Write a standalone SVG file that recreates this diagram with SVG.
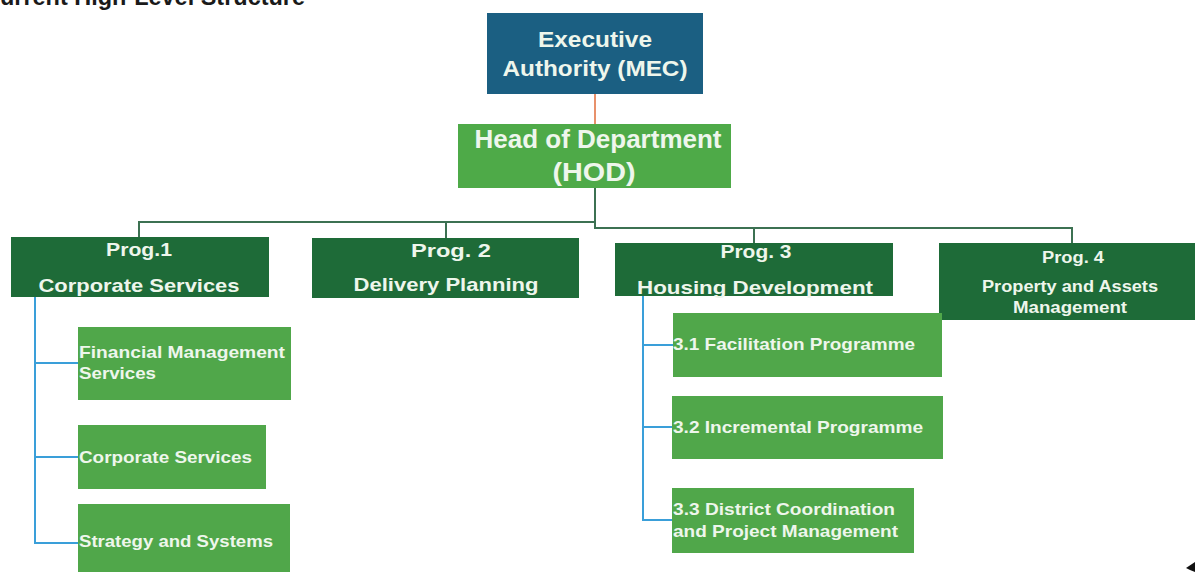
<svg xmlns="http://www.w3.org/2000/svg" width="1195" height="572" viewBox="0 0 1195 572">
  <style>
    .t { font-family: "Liberation Sans", Arial, sans-serif; font-weight: bold; fill: #eef6ec; }
    .c { text-anchor: middle; }
    .blue { fill: #1b5f82; }
    .hod { fill: #4eaa48; }
    .prog { fill: #1e6b38; }
    .sub { fill: #50a74a; }
    .trunk { fill: none; stroke: #3c7152; stroke-width: 2; }
    .branch { fill: none; stroke: #3a9fd9; stroke-width: 2; }
  </style>

  <rect width="1195" height="572" fill="#ffffff"/>

  <!-- page heading, cut by the top edge -->
  <text x="-17" y="5" font-family="Liberation Sans, Arial, sans-serif" font-weight="bold" font-size="23" fill="#1a1a1a" textLength="322" lengthAdjust="spacingAndGlyphs">Current High-Level Structure</text>

  <!-- connectors -->
  <g id="connectors">
    <line x1="595" y1="94" x2="595" y2="124" stroke="#e8916b" stroke-width="2"/>
    <polyline class="trunk" points="595,188 595,228 1072,228 1072,243"/>
    <polyline class="trunk" points="139,237 139,222 595,222"/>
    <line class="trunk" x1="446" y1="222" x2="446" y2="238"/>
    <line class="trunk" x1="754" y1="228" x2="754" y2="243"/>
    <polyline class="branch" points="35,297 35,543 78,543"/>
    <line class="branch" x1="35" y1="363" x2="78" y2="363"/>
    <line class="branch" x1="35" y1="457" x2="78" y2="457"/>
    <polyline class="branch" points="643,296 643,520 672,520"/>
    <line class="branch" x1="643" y1="345" x2="673" y2="345"/>
    <line class="branch" x1="643" y1="427" x2="672" y2="427"/>
  </g>

  <g id="mec">
    <rect class="blue" x="487" y="13" width="216" height="81"/>
    <text class="t c" x="595" y="47" font-size="22" textLength="114" lengthAdjust="spacingAndGlyphs">Executive</text>
    <text class="t c" x="595" y="76" font-size="22" textLength="185" lengthAdjust="spacingAndGlyphs">Authority (MEC)</text>
  </g>

  <g id="hod">
    <rect class="hod" x="458" y="124" width="273" height="64"/>
    <text class="t c" x="598" y="148" font-size="25" textLength="247" lengthAdjust="spacingAndGlyphs">Head of Department</text>
    <text class="t c" x="594" y="181" font-size="26" textLength="83" lengthAdjust="spacingAndGlyphs">(HOD)</text>
  </g>

  <g id="prog1">
    <rect class="prog" x="11" y="237" width="258" height="60"/>
    <text class="t c" x="139" y="256" font-size="19" textLength="66" lengthAdjust="spacingAndGlyphs">Prog.1</text>
    <text class="t c" x="139" y="292" font-size="19" textLength="201" lengthAdjust="spacingAndGlyphs">Corporate Services</text>
  </g>

  <g id="prog2">
    <rect class="prog" x="312" y="238" width="267" height="60"/>
    <text class="t c" x="451" y="257" font-size="19" textLength="80" lengthAdjust="spacingAndGlyphs">Prog. 2</text>
    <text class="t c" x="446" y="291" font-size="19" textLength="185" lengthAdjust="spacingAndGlyphs">Delivery Planning</text>
  </g>

  <g id="prog3">
    <rect class="prog" x="615" y="243" width="278" height="53"/>
    <text class="t c" x="756" y="258" font-size="19" textLength="71" lengthAdjust="spacingAndGlyphs">Prog. 3</text>
    <text class="t c" x="755" y="294" font-size="19" textLength="236" lengthAdjust="spacingAndGlyphs">Housing Development</text>
  </g>

  <g id="prog4">
    <rect class="prog" x="939" y="243" width="256" height="77"/>
    <text class="t c" x="1073" y="263" font-size="16" textLength="62" lengthAdjust="spacingAndGlyphs">Prog. 4</text>
    <text class="t c" x="1070" y="292" font-size="16" textLength="176" lengthAdjust="spacingAndGlyphs">Property and Assets</text>
    <text class="t c" x="1070" y="313" font-size="16" textLength="114" lengthAdjust="spacingAndGlyphs">Management</text>
  </g>

  <g id="fin-mgmt">
    <rect class="sub" x="78" y="327" width="213" height="73"/>
    <text class="t" x="79" y="358" font-size="17" textLength="206" lengthAdjust="spacingAndGlyphs">Financial Management</text>
    <text class="t" x="79" y="379" font-size="17" textLength="77" lengthAdjust="spacingAndGlyphs">Services</text>
  </g>

  <g id="corp-services">
    <rect class="sub" x="78" y="425" width="188" height="64"/>
    <text class="t" x="79" y="463" font-size="17" textLength="173" lengthAdjust="spacingAndGlyphs">Corporate Services</text>
  </g>

  <g id="strategy">
    <rect class="sub" x="78" y="504" width="212" height="70"/>
    <text class="t" x="79" y="547" font-size="17" textLength="194" lengthAdjust="spacingAndGlyphs">Strategy and Systems</text>
  </g>

  <g id="facilitation">
    <rect class="sub" x="673" y="313" width="269" height="64"/>
    <text class="t" x="673" y="350" font-size="17" textLength="242" lengthAdjust="spacingAndGlyphs">3.1 Facilitation Programme</text>
  </g>

  <g id="incremental">
    <rect class="sub" x="672" y="396" width="271" height="63"/>
    <text class="t" x="673" y="433" font-size="17" textLength="250" lengthAdjust="spacingAndGlyphs">3.2 Incremental Programme</text>
  </g>

  <g id="district">
    <rect class="sub" x="672" y="488" width="242" height="65"/>
    <text class="t" x="673" y="515" font-size="17" textLength="222" lengthAdjust="spacingAndGlyphs">3.3 District Coordination</text>
    <text class="t" x="673" y="537" font-size="17" textLength="225" lengthAdjust="spacingAndGlyphs">and Project Management</text>
  </g>

  <!-- pointer tip in the lower right corner -->
  <path d="M1195,562 L1186,568 L1190,570 L1195,572 Z" fill="#111111"/>
</svg>
